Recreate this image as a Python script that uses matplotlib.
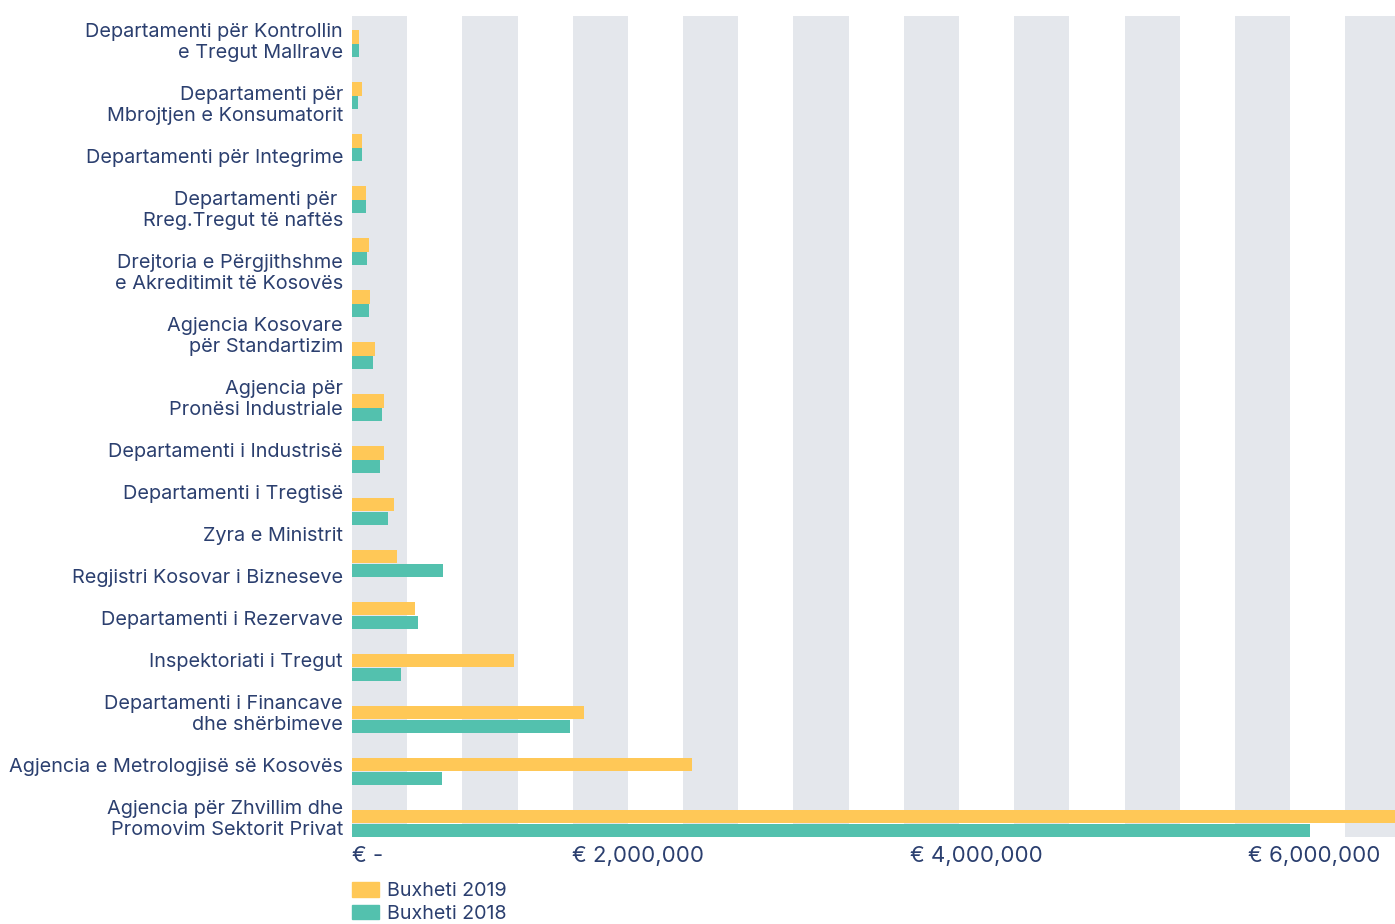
import matplotlib
matplotlib.use("Agg")
import matplotlib.pyplot as plt
import matplotlib.transforms as mtransforms
from matplotlib.patches import Patch

plt.rcParams['font.family'] = ['Inter', 'DejaVu Sans']

categories = [
    "Departamenti për Kontrollin\ne Tregut Mallrave",
    "Departamenti për\nMbrojtjen e Konsumatorit",
    "Departamenti për Integrime",
    "Departamenti për \nRreg.Tregut të naftës",
    "Drejtoria e Përgjithshme\ne Akreditimit të Kosovës",
    "Agjencia Kosovare\npër Standartizim",
    "Agjencia për\nPronësi Industriale",
    "Departamenti i Industrisë",
    "Departamenti i Tregtisë",
    "Zyra e Ministrit",
    "Regjistri Kosovar i Bizneseve",
    "Departamenti i Rezervave",
    "Inspektoriati i Tregut",
    "Departamenti i Financave\ndhe shërbimeve",
    "Agjencia e Metrologjisë së Kosovës",
    "Agjencia për Zhvillim dhe\nPromovim Sektorit Privat",
]
budget_2019 = [44000, 60000, 60000, 85000, 101000, 111000, 139000, 195000,
               195000, 252000, 272000, 379000, 977000, 1400000, 2055000, 6500000]
budget_2018 = [44000, 38000, 60000, 83000, 89000, 105000, 129000, 183000,
               171000, 218000, 552000, 401000, 296000, 1318000, 546000, 5786000]
tick_labels = ["€ -", "€ 2,000,000", "€ 4,000,000", "€ 6,000,000"]
legend_labels = ["Buxheti 2019", "Buxheti 2018"]

YELLOW = "#FFC857"
TEAL = "#53C1AE"
STRIPE = "#E4E7EC"
TEXT = "#2B3F6F"
FS = 14.3
FS_TICK = 16
FS_LEG = 14.2

W, H = 1395, 924
fig = plt.figure(figsize=(W / 100, H / 100), dpi=100)
ax = fig.add_axes([352 / W, 1 - 837 / H, 1043 / W, (837 - 16) / H])

n = len(categories)
xmax = 6.3e6
stripe = 1e6 / 3
k = 0
while k * stripe < xmax:
    ax.axvspan(k * stripe, (k + 1) * stripe, color=STRIPE, lw=0, zorder=0)
    k += 2

ypos = list(range(n))
bh = 0.26
ax.barh([y - bh / 2 for y in ypos], budget_2019, height=bh, color=YELLOW,
        zorder=2, label=legend_labels[0])
ax.barh([y + bh / 2 for y in ypos], budget_2018, height=bh, color=TEAL,
        zorder=2, label=legend_labels[1])

ax.set_xlim(0, xmax)
ax.set_ylim(15 + 13.5 / 52, -27.5 / 52)
for s in ax.spines.values():
    s.set_visible(False)
ax.set_xticks([])
ax.set_yticks([])

# category labels stacked by line count
h1, hline = 42 / 52, 21 / 52
heights = [h1 + hline * (c.count("\n")) for c in categories]
total = sum(heights)
top = 7.45 - total / 2
trans = mtransforms.blended_transform_factory(ax.transAxes, ax.transData)
cur = top
for c, h in zip(categories, heights):
    ax.text(-9 / 1043, cur + h / 2, c, transform=trans, ha="right", va="center",
            multialignment="right", fontsize=FS, color=TEXT, linespacing=1.23)
    cur += h

# x labels
xlab_pos = [0, 220 / 1043, 558 / 1043, 896 / 1043]
for p, t in zip(xlab_pos, tick_labels):
    ax.text(p, -19 / 821, t, transform=ax.transAxes, ha="left", va="center",
            fontsize=FS_TICK, color=TEXT)

handles = [Patch(color=YELLOW), Patch(color=TEAL)]
fig.legend(handles, legend_labels, loc="upper left",
           bbox_to_anchor=(352 / W, 1 - 882 / H), frameon=False,
           fontsize=FS_LEG, labelcolor=TEXT, handlelength=1.35, handleheight=0.78,
           handletextpad=0.4, labelspacing=0.22, borderpad=0, borderaxespad=0)

fig.savefig("out.png", dpi=100)
